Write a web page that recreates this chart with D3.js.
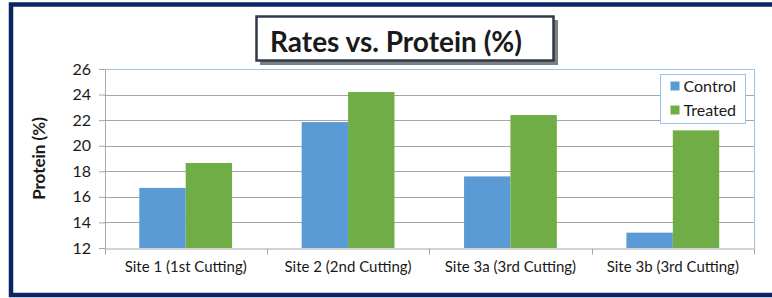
<!DOCTYPE html>
<meta charset="utf-8">
<style>
body { margin: 0; background: #fff; }
text { font-family: Lato, "Open Sans", sans-serif; fill: #1a1a1a; }
</style>
<svg width="772" height="298"></svg>
<script src="https://d3js.org/d3.v7.min.js"></script>
<script>

var sites = ["Site 1 (1st Cutting)", "Site 2 (2nd Cutting)", "Site 3a (3rd Cutting)", "Site 3b (3rd Cutting)"];
var seriesNames = ["Control", "Treated"];
var control = [16.7, 21.85, 17.6, 13.2];
var treated = [18.65, 24.2, 22.4, 21.2];
var yTicks = [12, 14, 16, 18, 20, 22, 24, 26];
var colors = ["#5b9bd5", "#70ad47"];

var svg = d3.select("svg");

// outer frame, runs off the right edge
svg.append("rect")
    .attr("x", 11).attr("y", 4.5)
    .attr("width", 800).attr("height", 290.5)
    .attr("fill", "none")
    .attr("stroke", "#0b2462")
    .attr("stroke-width", 4.5);

var pLeft = 104.5, pRight = 754, pTop = 69, pBottom = 248;

var x0 = d3.scaleBand().domain(sites).range([pLeft, pRight]).paddingInner(0).paddingOuter(0);
var gapRatio = 1.5; // excel gap width 150%
var barW = x0.bandwidth() / (2 + gapRatio);
var x1 = d3.scaleBand().domain(seriesNames).range([0, barW * 2]);

var y = d3.scaleLinear().domain([12, 26]).range([pBottom, pTop]);

// gridlines
svg.append("g").selectAll("line")
    .data(yTicks.slice(1, -1))
  .enter().append("line")
    .attr("x1", pLeft).attr("x2", pRight)
    .attr("y1", function(d) { return Math.round(y(d)) + 0.5; })
    .attr("y2", function(d) { return Math.round(y(d)) + 0.5; })
    .attr("stroke", "#a6a6a6");

// plot area border (top/right)
svg.append("path")
    .attr("d", "M" + pLeft + "," + (pTop + 0.5) + "H" + (pRight + 0.5) + "V" + pBottom)
    .attr("fill", "none")
    .attr("stroke", "#9dc3e6");

// bars
var rows = sites.map(function(s, i) { return { site: s, vals: [control[i], treated[i]] }; });
var grp = svg.append("g").selectAll("g")
    .data(rows)
  .enter().append("g")
    .attr("transform", function(d) { return "translate(" + (x0(d.site) + barW * gapRatio / 2) + ",0)"; });
grp.selectAll("rect")
    .data(function(d) { return d.vals.map(function(v, i) { return { name: seriesNames[i], v: v, i: i }; }); })
  .enter().append("rect")
    .attr("x", function(d) { return x1(d.name); })
    .attr("width", x1.bandwidth())
    .attr("y", function(d) { return y(d.v); })
    .attr("height", function(d) { return pBottom - y(d.v); })
    .attr("fill", function(d) { return colors[d.i]; });

// y axis
var yAxis = svg.append("g")
    .attr("transform", "translate(" + (pLeft + 0.5) + ",0)")
    .call(d3.axisLeft(y).tickValues(yTicks).tickSize(6).tickPadding(8).tickSizeOuter(0));
yAxis.select(".domain").attr("stroke", "#a6a6a6");
yAxis.selectAll(".tick line").attr("stroke", "#a6a6a6");
yAxis.selectAll(".tick text").style("font-size", "16px").attr("fill", "#262626").attr("font-family", null);

// x axis
var xAxis = svg.append("g")
    .attr("transform", "translate(0," + (pBottom + 0.5) + ")")
    .call(d3.axisBottom(x0).tickSize(0).tickPadding(13));
xAxis.select(".domain").attr("stroke", "#a6a6a6");
xAxis.selectAll(".tick text").style("font-size", "15px").attr("fill", "#262626").attr("font-family", null);
xAxis.selectAll(".sep")
    .data(sites.concat(["end"]))
  .enter().append("line")
    .attr("x1", function(d, i) { return Math.round(pLeft + i * x0.bandwidth()) + 0.5; })
    .attr("x2", function(d, i) { return Math.round(pLeft + i * x0.bandwidth()) + 0.5; })
    .attr("y1", 0).attr("y2", 6)
    .attr("stroke", "#a6a6a6");

// y title
svg.append("text")
    .attr("transform", "translate(45," + ((pTop + pBottom) / 2) + ") rotate(-90)")
    .attr("text-anchor", "middle")
    .style("font-size", "17px")
    .style("font-weight", "bold")
    .attr("fill", "#000")
    .text("Protein (%)");

// title box with shadow
svg.append("rect")
    .attr("x", 260).attr("y", 20).attr("width", 298).attr("height", 45)
    .attr("fill", "#7f7f7f");
svg.append("rect")
    .attr("x", 256.5).attr("y", 16.5).attr("width", 297).attr("height", 44)
    .attr("fill", "#fff")
    .attr("stroke", "#2f3a4f")
    .attr("stroke-width", 2.5);
svg.append("text")
    .attr("x", 396).attr("y", 52)
    .attr("text-anchor", "middle")
    .style("font-size", "28px")
    .style("font-weight", "bold")
    .attr("fill", "#000")
    .text("Rates vs. Protein (%)");

// legend
var lg = svg.append("g").attr("transform", "translate(660.5,74.5)");
lg.append("rect")
    .attr("width", 85).attr("height", 49)
    .attr("fill", "#fff")
    .attr("stroke", "#9dc3e6");
var li = lg.selectAll(".item")
    .data(seriesNames)
  .enter().append("g")
    .attr("transform", function(d, i) { return "translate(10," + (12 + i * 24) + ")"; });
li.append("rect")
    .attr("width", 9).attr("height", 9).attr("y", -5)
    .attr("fill", function(d, i) { return colors[i]; });
li.append("text")
    .attr("x", 13).attr("y", 5.5)
    .style("font-size", "16px")
    .text(function(d) { return d; });

</script>
